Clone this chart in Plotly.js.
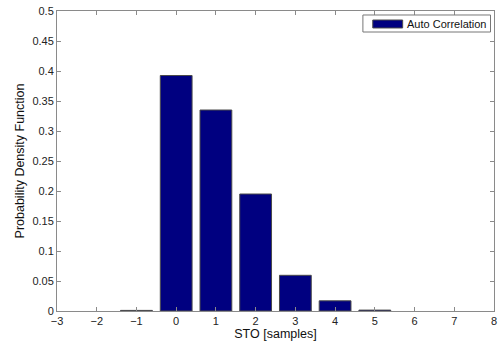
<!DOCTYPE html>
<html><head><meta charset="utf-8">
<script src="https://cdn.plot.ly/plotly-3.0.1.min.js"></script>
<style>html,body{margin:0;padding:0;background:#fff;}#chart{width:504px;height:341px;}</style>
</head><body><div id="chart"></div>
<script>
const categories = [-1, 0, 1, 2, 3, 4, 5];
const pdfValues = [0.001, 0.3925, 0.335, 0.195, 0.0595, 0.017, 0.0015];
const xTicks = [-3, -2, -1, 0, 1, 2, 3, 4, 5, 6, 7, 8];
const yTicks = [0, 0.05, 0.1, 0.15, 0.2, 0.25, 0.3, 0.35, 0.4, 0.45, 0.5];
const yTickText = ['0','0.05','0.1','0.15','0.2','0.25','0.3','0.35','0.4','0.45','0.5'];
const seriesName = 'Auto Correlation';

const FONT = 'Liberation Sans, Arial, sans-serif';
const BAR_COLOR = '#000080';
const EDGE = '#4a4a4a';

const trace = {
  type: 'bar', x: categories, y: pdfValues, name: seriesName, width: 0.8,
  marker: {color: BAR_COLOR, line: {color: EDGE, width: 1}}
};
const axisCommon = {
  showline: true, linecolor: '#8a8a8a', linewidth: 1, mirror: 'ticks',
  ticks: 'inside', ticklen: 4, tickcolor: '#8a8a8a', showgrid: false, zeroline: false,
  tickfont: {family: FONT, size: 11, color: '#222'}
};
const layout = {
  width: 504, height: 341,
  margin: {l: 56.5, r: 9.5, t: 11, b: 29.5},
  paper_bgcolor: '#fff', plot_bgcolor: '#fff',
  showlegend: false,
  xaxis: Object.assign({}, axisCommon, {range: [-3, 8], tickvals: xTicks, ticklabelstandoff: 0,
    title: {text: 'STO [samples]', standoff: 1, font: {family: FONT, size: 12.5, color: '#111'}}}),
  yaxis: Object.assign({}, axisCommon, {range: [0, 0.5], tickvals: yTicks, ticktext: yTickText,
    title: {text: 'Probability Density Function', standoff: 5, font: {family: FONT, size: 12.5, color: '#111'}}}),
  bargap: 0.2,
  shapes: [
    {type: 'rect', xref: 'paper', yref: 'paper', x0: 0.700, x1: 0.992, y0: 0.930, y1: 0.9867,
      line: {color: '#777', width: 1}, fillcolor: '#fff', layer: 'above'},
    {type: 'rect', xref: 'paper', yref: 'paper', x0: 0.7226, x1: 0.791, y0: 0.9434, y1: 0.970,
      line: {color: EDGE, width: 1}, fillcolor: BAR_COLOR, layer: 'above'}
  ],
  annotations: [
    {xref: 'paper', yref: 'paper', x: 0.7955, y: 0.9575, xanchor: 'left', yanchor: 'middle',
      text: seriesName, showarrow: false, font: {family: FONT, size: 11, color: '#111'}}
  ]
};
Plotly.newPlot('chart', [trace], layout, {displayModeBar: false, staticPlot: true});
</script></body></html>
